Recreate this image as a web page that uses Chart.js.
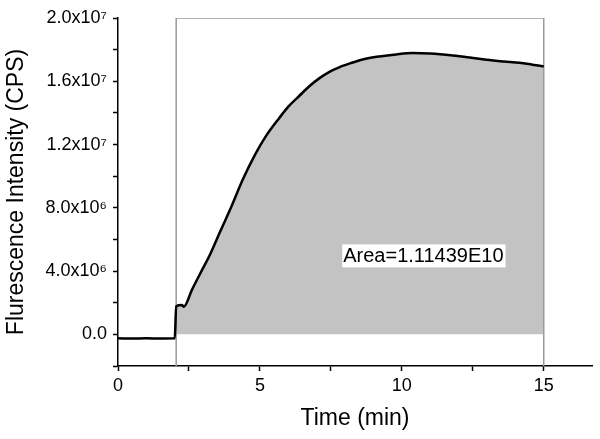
<!DOCTYPE html>
<html>
<head>
<meta charset="utf-8">
<script src="https://cdn.jsdelivr.net/npm/chart.js@4.4.1/dist/chart.umd.min.js"></script>
<style>
  html, body { margin: 0; padding: 0; background: #fff; }
  #wrap { width: 600px; height: 439px; position: relative; }
</style>
</head>
<body>
<div id="wrap"><canvas id="c"></canvas></div>
<script>
// ---- data ----
const timeMin = [0, 0.5, 1.0, 1.5, 2.0, 2.05, 2.25, 2.32, 2.6, 3.0, 3.23, 3.6, 4.0, 4.4, 4.81, 5.2, 5.69, 6.0, 6.4, 6.75, 7.1, 7.45, 7.81, 8.2, 8.62, 9.21, 9.8, 10.38, 11.0, 11.79, 12.4, 12.98, 13.6, 14.14, 14.6, 15.0];
const intensity = [-2.5e5, -2.6e5, -2.5e5, -2.6e5, -2.5e5, 1.77e6, 1.85e6, 1.75e6, 2.8e6, 4.2e6, 5.0e6, 6.5e6, 8.1e6, 9.8e6, 11.3e6, 12.5e6, 13.7e6, 14.4e6, 15.1e6, 15.7e6, 16.2e6, 16.6e6, 16.9e6, 17.15e6, 17.38e6, 17.57e6, 17.7e6, 17.78e6, 17.75e6, 17.63e6, 17.5e6, 17.36e6, 17.25e6, 17.17e6, 17.05e6, 16.94e6];
const areaStart = 2.05;       // integration window start (min)
const areaEnd = 15.0;         // integration window end (min)
const areaLabel = 'Area=1.11439E10';
const areaLabelPos = [10.76, 4.96e6];
const xTickLabels = {0: '0', 5: '5', 10: '10', 15: '15'};
const yTickLabels = {0: '0.0', 4e6: '4.0x10\u2076', 8e6: '8.0x10\u2076', 12e6: '1.2x10\u2077', 16e6: '1.6x10\u2077', 20e6: '2.0x10\u2077'};
const xRange = [0, 16.7];
const yRange = [-2e6, 2e7];

// ---- derived tables ----
const linePts = timeMin.map((t, i) => ({x: t, y: intensity[i]}));
const areaPts = linePts.filter(p => p.x >= areaStart && p.x <= areaEnd);
const boxPts = [
  {x: areaStart, y: yRange[0]}, {x: areaStart, y: yRange[1]},
  {x: areaEnd, y: yRange[1]}, {x: areaEnd, y: yRange[0]}
];

const FONT = "'Liberation Sans', Arial, sans-serif";

const labelPlugin = {
  id: 'areaLabel',
  afterDatasetsDraw(chart) {
    const {ctx, scales: {x, y}} = chart;
    const px = x.getPixelForValue(areaLabelPos[0]);
    const py = y.getPixelForValue(areaLabelPos[1]);
    ctx.save();
    ctx.font = '20px ' + FONT;
    const w = ctx.measureText(areaLabel).width;
    ctx.fillStyle = '#fff';
    ctx.fillRect(px - w / 2 - 1, py - 11.5, w + 3, 23);
    ctx.fillStyle = '#000';
    ctx.textAlign = 'center';
    ctx.textBaseline = 'middle';
    ctx.fillText(areaLabel, px, py + 1);
    ctx.restore();
  }
};

new Chart(document.getElementById('c'), {
  type: 'line',
  data: {
    datasets: [
      {
        data: areaPts, borderWidth: 0, pointRadius: 0, order: 3,
        backgroundColor: '#c3c3c3', fill: 'origin', cubicInterpolationMode: 'monotone'
      },
      {
        data: boxPts, borderColor: '#9a9a9a', borderWidth: 1.5, order: 2,
        pointRadius: 0, fill: false, tension: 0
      },
      {
        data: linePts, borderColor: '#000', borderWidth: 2.5, order: 1,
        pointRadius: 0, fill: false, cubicInterpolationMode: 'monotone'
      }
    ]
  },
  options: {
    responsive: true,
    maintainAspectRatio: false,
    animation: false,
    events: [],
    layout: { padding: { top: 18, right: 8, left: 0, bottom: 0 } },
    plugins: { legend: { display: false }, tooltip: { enabled: false } },
    scales: {
      x: {
        type: 'linear', min: xRange[0], max: xRange[1],
        afterFit(s) { s.height = 73; },
        border: { color: '#000', width: 1.5 },
        grid: { drawOnChartArea: false, tickLength: 5, tickColor: '#000', tickWidth: 1.5 },
        ticks: {
          stepSize: 2.5, includeBounds: false, autoSkip: false, maxRotation: 0,
          color: '#000', font: { family: FONT, size: 18 }, padding: 4,
          callback: v => xTickLabels[v] !== undefined ? xTickLabels[v] : ''
        },
        title: {
          display: true, text: 'Time (min)', color: '#000',
          font: { family: FONT, size: 23 }, padding: { top: 0, bottom: 7 }
        }
      },
      y: {
        type: 'linear', min: yRange[0], max: yRange[1],
        afterFit(s) { s.width = 118; },
        border: { color: '#000', width: 1.5 },
        grid: { drawOnChartArea: false, tickLength: 5, tickColor: '#000', tickWidth: 1.5 },
        ticks: {
          stepSize: 2e6, autoSkip: false,
          color: '#000', font: { family: FONT, size: 18 }, padding: 6,
          callback: v => yTickLabels[v] !== undefined ? yTickLabels[v] : ''
        },
        title: {
          display: true, text: 'Flurescence Intensity (CPS)', color: '#000',
          font: { family: FONT, size: 23 }, padding: { top: 3, bottom: 0 }
        }
      }
    }
  },
  plugins: [labelPlugin]
});
</script>
</body>
</html>
